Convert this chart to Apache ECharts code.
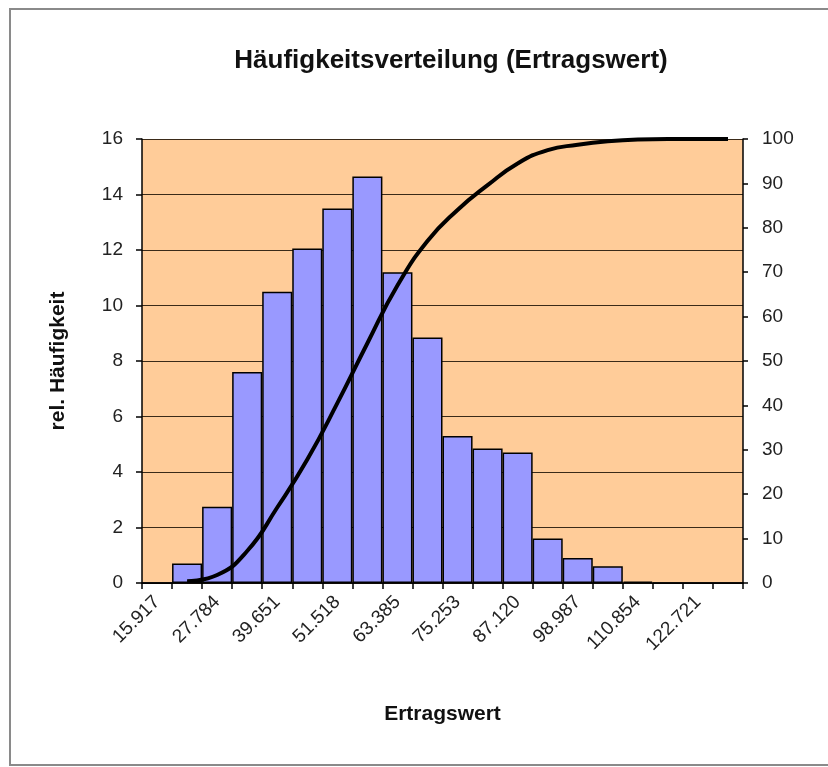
<!DOCTYPE html>
<html>
<head>
<meta charset="utf-8">
<script src="https://cdn.jsdelivr.net/npm/echarts@6/dist/echarts.min.js"></script>
<style>html,body{margin:0;padding:0;background:#fff}#c{width:828px;height:767px}</style>
</head>
<body>
<div id="c"></div>
<script>
const categories = ['15.917','21.851','27.784','33.718','39.651','45.585','51.518','57.452','63.385','69.319',
  '75.253','81.187','87.120','93.054','98.987','104.921','110.854','116.788','122.721','128.655'];
const relFrequency = [0, 0.7, 2.75, 7.6, 10.5, 12.05, 13.5, 14.65, 11.2, 8.85,
  5.3, 4.85, 4.7, 1.6, 0.9, 0.6, 0.05, 0, 0, 0];
const cumulative = [null, 0.4, 1.8, 7.2, 17.0, 27.8, 40.5, 54, 67, 77,
  84, 89.6, 94.5, 97.5, 98.7, 99.5, 99.9, 100, 100, 100];
const leftTicks = [0, 16, 2];
const rightTicks = [0, 100, 10];

const font = 'Liberation Sans, Arial, sans-serif';
const chart = echarts.init(document.getElementById('c'), null, {renderer: 'canvas'});
chart.setOption({
  animation: false,
  backgroundColor: '#fff',
  graphic: [{
    type: 'rect', shape: {x: 10, y: 9, width: 830, height: 756},
    style: {fill: 'none', stroke: '#8a8a8a', lineWidth: 2}, z: -1
  }],
  title: {
    text: 'Häufigkeitsverteilung (Ertragswert)',
    left: 446, top: 43, textAlign: 'center',
    textStyle: {fontFamily: font, fontSize: 26, fontWeight: 'bold', color: '#111'}
  },
  grid: {left: 142, right: 85, top: 139, bottom: 184, show: true, backgroundColor: '#FFCC99', borderWidth: 0},
  xAxis: {
    type: 'category', data: categories, boundaryGap: true,
    name: 'Ertragswert', nameLocation: 'middle', nameGap: 121,
    nameTextStyle: {fontFamily: font, fontSize: 21, fontWeight: 'bold', color: '#111'},
    axisLine: {lineStyle: {color: '#000', width: 1.5}},
    axisTick: {show: true, interval: 0, length: 6, lineStyle: {color: '#000', width: 1.5}},
    axisLabel: {interval: 1, rotate: 45, margin: 16, fontFamily: font, fontSize: 19, color: '#222'},
    splitLine: {show: false}
  },
  yAxis: [{
    type: 'value', min: leftTicks[0], max: leftTicks[1], interval: leftTicks[2],
    name: 'rel. Häufigkeit', nameLocation: 'middle', nameGap: 73, nameRotate: 90,
    nameTextStyle: {fontFamily: font, fontSize: 21, fontWeight: 'bold', color: '#111'},
    axisLine: {show: true, lineStyle: {color: '#000', width: 1.5}},
    axisTick: {show: true, length: 6, lineStyle: {color: '#000', width: 1.5}},
    axisLabel: {margin: 19, fontFamily: font, fontSize: 19, color: '#222'},
    splitLine: {show: true, lineStyle: {color: '#3a2a18', width: 1.2}}
  }, {
    type: 'value', min: rightTicks[0], max: rightTicks[1], interval: rightTicks[2], position: 'right',
    axisLine: {show: true, lineStyle: {color: '#000', width: 1.5}},
    axisTick: {show: true, length: 5, inside: false, lineStyle: {color: '#000', width: 1.5}},
    axisLabel: {margin: 19, fontFamily: font, fontSize: 19, color: '#222'},
    splitLine: {show: false}
  }],
  series: [{
    type: 'bar', data: relFrequency, yAxisIndex: 0, barCategoryGap: '0%',
    itemStyle: {color: '#9999FF', borderColor: '#000', borderWidth: 1.5}
  }, {
    type: 'line', data: cumulative, yAxisIndex: 1, smooth: 0.5, showSymbol: false, symbol: 'none',
    lineStyle: {color: '#000', width: 4}, z: 5
  }]
});
</script>
</body>
</html>
